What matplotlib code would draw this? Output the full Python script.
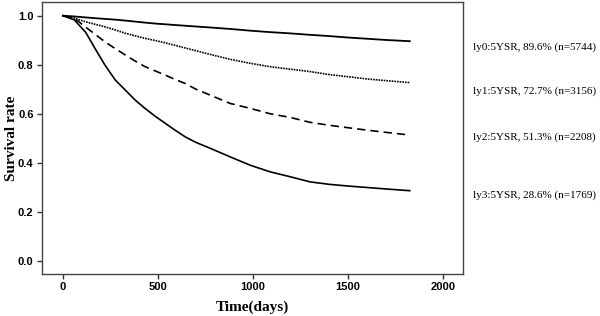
import matplotlib
matplotlib.use("Agg")
import matplotlib.pyplot as plt

days = [0, 60, 120, 170, 220, 275, 330, 380, 430, 485, 540, 590, 645, 700, 775,
        880, 985, 1090, 1195, 1300, 1400, 1500, 1600, 1700, 1825]
ly0 = [1.0, 0.997, 0.993, 0.990, 0.987, 0.984, 0.980, 0.976, 0.972, 0.968, 0.965, 0.962, 0.959,
       0.956, 0.952, 0.946, 0.939, 0.933, 0.928, 0.922, 0.917, 0.911, 0.906, 0.901, 0.896]
ly1 = [1.0, 0.990, 0.975, 0.965, 0.955, 0.942, 0.928, 0.918, 0.908, 0.899, 0.889, 0.879, 0.868,
       0.857, 0.842, 0.822, 0.806, 0.792, 0.782, 0.772, 0.760, 0.751, 0.742, 0.735, 0.727]
ly2 = [1.0, 0.990, 0.953, 0.924, 0.894, 0.866, 0.839, 0.815, 0.793, 0.775, 0.757, 0.740, 0.723,
       0.700, 0.676, 0.642, 0.622, 0.600, 0.585, 0.565, 0.553, 0.543, 0.533, 0.524, 0.513]
ly3 = [1.0, 0.983, 0.932, 0.865, 0.800, 0.738, 0.695, 0.656, 0.623, 0.590, 0.560, 0.533, 0.505,
       0.483, 0.459, 0.424, 0.390, 0.363, 0.343, 0.322, 0.312, 0.305, 0.299, 0.293, 0.286]
labels = ["ly0:5YSR, 89.6% (n=5744)", "ly1:5YSR, 72.7% (n=3156)",
          "ly2:5YSR, 51.3% (n=2208)", "ly3:5YSR, 28.6% (n=1769)"]
label_y = [0.873, 0.690, 0.506, 0.268]

fig = plt.figure(figsize=(6, 3.16), dpi=100)
ax = fig.add_axes([0.07, 0.1329, 0.7017, 0.8608])

ax.plot(days, ly0, color="black", lw=1.3, ls="-")
ax.plot(days, ly1, color="black", lw=1.2, ls=(0, (1, 0.6)))
ax.plot(days, ly2, color="black", lw=1.2, ls=(0, (5, 3)))
ax.plot(days, ly3, color="black", lw=1.2, ls="-")

ax.set_xlim(-110, 2105)
ax.set_ylim(-0.054, 1.056)
ax.set_xticks([0, 500, 1000, 1500, 2000])
ax.set_yticks([0.0, 0.2, 0.4, 0.6, 0.8, 1.0])
ax.set_yticklabels(["0.0", "0.2", "0.4", "0.6", "0.8", "1.0"])
for lab in ax.get_xticklabels() + ax.get_yticklabels():
    lab.set_fontfamily("Liberation Sans")
    lab.set_fontweight("bold")
    lab.set_fontsize(8)
ax.tick_params(direction="out", length=3.6, width=1, color="#333333", pad=2.5)
for s in ax.spines.values():
    s.set_color("#444444")
    s.set_linewidth(1)

ax.set_xlabel("Time(days)", family="Liberation Serif", fontweight="bold", fontsize=11)
ax.set_ylabel("Survival rate", family="Liberation Serif", fontweight="bold", fontsize=11)
ax.xaxis.set_label_coords(0.5, -0.097)
ax.yaxis.set_label_coords(-0.058, 0.5)

for t, y in zip(labels, label_y):
    ax.text(1.023, y, t, transform=ax.get_yaxis_transform(), family="Liberation Serif",
            fontsize=8, va="center", ha="left")

fig.savefig("out.png", dpi=100)
